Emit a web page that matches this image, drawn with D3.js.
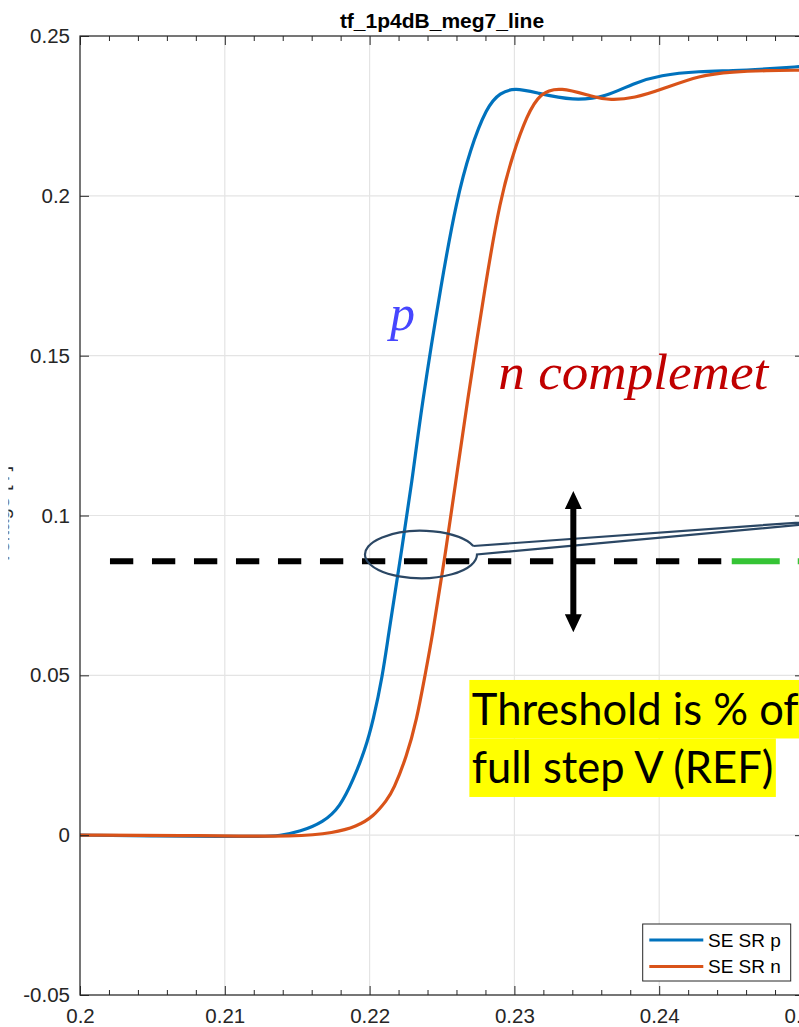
<!DOCTYPE html>
<html>
<head>
<meta charset="utf-8">
<script src="https://cdn.jsdelivr.net/npm/d3@7"></script>
<style>
  html, body { margin: 0; padding: 0; background: #ffffff; }
  svg { display: block; }
</style>
</head>
<body>
<svg id="chart" width="799" height="1027"></svg>
<script>
// ---- data ----
const chartTitle = "tf_1p4dB_meg7_line";
const yAxisLabel = "Voltage [V]";
const seriesNames = ["SE SR p", "SE SR n"];

const xTickValues = [0.2, 0.21, 0.22, 0.23, 0.24, 0.25];
const xTickLabels = ["0.2", "0.21", "0.22", "0.23", "0.24", "0.25"];
const yTickValues = [-0.05, 0, 0.05, 0.1, 0.15, 0.2, 0.25];
const yTickLabels = ["-0.05", "0", "0.05", "0.1", "0.15", "0.2", "0.25"];

// step response, p side
const timeP = [0.2000, 0.2049, 0.2100, 0.2125, 0.2138, 0.21519, 0.21680, 0.21796, 0.21887, 0.21968,
               0.22026, 0.22090, 0.22125, 0.22210, 0.22295, 0.22355, 0.22498, 0.22601, 0.22693, 0.22809,
               0.22901, 0.23004, 0.23154, 0.23405, 0.23637, 0.23819, 0.24006, 0.24282, 0.24510, 0.24738,
               0.24965, 0.2500];
const voltP = [0.0000, -0.0002, -0.0004, -0.0004, -0.0002, 0.0011, 0.0040, 0.0088, 0.0173, 0.0266,
               0.0360, 0.0501, 0.0611, 0.0858, 0.1111, 0.1330, 0.1736, 0.1987, 0.2143, 0.2279,
               0.2323, 0.2338, 0.2322, 0.2297, 0.2310, 0.2352, 0.2378, 0.2390, 0.2391, 0.2397,
               0.2404, 0.2405];

// step response, n side (complement)
const timeN = [0.2000, 0.20829, 0.21519, 0.21747, 0.21911, 0.22026, 0.22120, 0.22164, 0.22256,
               0.22325, 0.22383, 0.22429, 0.22516, 0.22597, 0.22666, 0.22804, 0.22901, 0.22992, 0.23085,
               0.23177, 0.23315, 0.23543, 0.23660, 0.23833, 0.24006, 0.24282, 0.24510, 0.24738, 0.24965,
               0.2500];
const voltN = [0.0000, -0.0001, -0.0005, 0.0007, 0.0027, 0.0058, 0.0110, 0.0141, 0.0246,
               0.0360, 0.0501, 0.0611, 0.0858, 0.1111, 0.1330, 0.1736, 0.1987, 0.2134, 0.2250,
               0.2323, 0.2341, 0.2310, 0.2299, 0.2306, 0.2331, 0.2378, 0.2388, 0.2392, 0.2393,
               0.2393];

// threshold annotation
const thresholdLevel = 0.0857;
const thresholdFrom = 0.20207;
const thresholdTo = 0.24435;
const thresholdGreenFrom = 0.24501;
const noteLines = ["Threshold is % of", "full step V (REF)"];
const labelP = "p";
const labelN = "n complemet";

// ---- layout ----
const W = 799, H = 1027;
const plot = { left: 80, right: 804, top: 36, bottom: 995 };
const axisColor = "#262626";
const gridColor = "#e4e4e4";
const colorP = "#0072BD";
const colorN = "#D95319";
const tickFont = "'Liberation Sans', Arial, Helvetica, sans-serif";

const x = d3.scaleLinear().domain([0.2, 0.25]).range([plot.left, plot.right]);
const y = d3.scaleLinear().domain([-0.05, 0.25]).range([plot.bottom, plot.top]);

const svg = d3.select("#chart");
const defs = svg.append("defs");
defs.append("clipPath").attr("id", "plot-clip")
  .append("rect")
  .attr("x", plot.left).attr("y", plot.top)
  .attr("width", plot.right - plot.left).attr("height", plot.bottom - plot.top);
defs.append("clipPath").attr("id", "ylabel-clip")
  .append("rect").attr("x", 8.4).attr("y", 0).attr("width", 30).attr("height", H);

svg.append("rect").attr("width", W).attr("height", H).attr("fill", "#ffffff");

// ---- grid ----
const grid = svg.append("g").attr("stroke", gridColor).attr("stroke-width", 1.2);
grid.selectAll("line.gx").data(xTickValues).join("line")
  .attr("class", "gx")
  .attr("x1", d => x(d)).attr("x2", d => x(d))
  .attr("y1", plot.top).attr("y2", plot.bottom);
grid.selectAll("line.gy").data(yTickValues).join("line")
  .attr("class", "gy")
  .attr("x1", plot.left).attr("x2", plot.right)
  .attr("y1", d => y(d)).attr("y2", d => y(d));

// ---- curves ----
const line = d3.line()
  .x(d => x(d[0]))
  .y(d => y(d[1]))
  .curve(d3.curveBasis);

const curves = svg.append("g").attr("clip-path", "url(#plot-clip)");
curves.append("path")
  .datum(d3.zip(timeP, voltP))
  .attr("d", line)
  .attr("fill", "none")
  .attr("stroke", colorP)
  .attr("stroke-width", 3.2)
  .attr("stroke-linejoin", "round");
curves.append("path")
  .datum(d3.zip(timeN, voltN))
  .attr("d", line)
  .attr("fill", "none")
  .attr("stroke", colorN)
  .attr("stroke-width", 3.2)
  .attr("stroke-linejoin", "round");

// ---- axes ----
const minorX = d3.range(0.2, 0.2501, 0.002).filter(v => !xTickValues.some(t => Math.abs(t - v) < 1e-9));

function styleAxis(g) {
  g.select(".domain").remove();
  g.selectAll(".tick line").attr("stroke", axisColor).attr("stroke-width", 1);
  g.selectAll(".tick text")
    .attr("fill", axisColor)
    .attr("font-family", tickFont)
    .attr("font-size", "20.5px");
}

svg.append("g").attr("transform", `translate(0,${plot.bottom})`)
  .call(d3.axisBottom(x).tickValues(xTickValues).tickFormat((d, i) => xTickLabels[i])
    .tickSize(-9).tickSizeOuter(0).tickPadding(13))
  .call(styleAxis);
svg.append("g").attr("transform", `translate(0,${plot.bottom})`)
  .call(d3.axisBottom(x).tickValues(minorX).tickFormat("").tickSize(-5).tickSizeOuter(0))
  .call(styleAxis);
svg.append("g").attr("transform", `translate(0,${plot.top})`)
  .call(d3.axisTop(x).tickValues(xTickValues).tickFormat("").tickSize(-9).tickSizeOuter(0))
  .call(styleAxis);
svg.append("g").attr("transform", `translate(0,${plot.top})`)
  .call(d3.axisTop(x).tickValues(minorX).tickFormat("").tickSize(-5).tickSizeOuter(0))
  .call(styleAxis);
svg.append("g").attr("transform", `translate(${plot.left},0)`)
  .call(d3.axisLeft(y).tickValues(yTickValues).tickFormat((d, i) => yTickLabels[i])
    .tickSize(-9).tickSizeOuter(0).tickPadding(10))
  .call(styleAxis);
svg.append("g").attr("transform", `translate(${plot.right},0)`)
  .call(d3.axisRight(y).tickValues(yTickValues).tickFormat("").tickSize(-9).tickSizeOuter(0))
  .call(styleAxis);

// axes box
svg.append("rect")
  .attr("x", plot.left).attr("y", plot.top)
  .attr("width", plot.right - plot.left).attr("height", plot.bottom - plot.top)
  .attr("fill", "none").attr("stroke", axisColor).attr("stroke-width", 1.2);

// title
svg.append("text")
  .attr("x", (plot.left + plot.right) / 2).attr("y", 28)
  .attr("text-anchor", "middle")
  .attr("font-family", tickFont).attr("font-weight", "bold").attr("font-size", "21px")
  .attr("fill", "#000000")
  .text(chartTitle);

// y-axis label (only its edge shows beside the axis)
svg.append("g").attr("clip-path", "url(#ylabel-clip)")
  .append("text")
  .attr("transform", `translate(9,${(plot.top + plot.bottom) / 2}) rotate(-90)`)
  .attr("text-anchor", "middle")
  .attr("font-family", tickFont).attr("font-size", "20.5px")
  .attr("fill", axisColor)
  .text(yAxisLabel);

// ---- legend ----
const legend = svg.append("g")
  .attr("transform", `translate(${plot.right - 161.3},${plot.bottom - 71})`);
legend.append("rect")
  .attr("x", 0).attr("y", 0).attr("width", 148).attr("height", 57)
  .attr("fill", "#ffffff").attr("stroke", axisColor).attr("stroke-width", 1);
[colorP, colorN].forEach((c, i) => {
  const yy = 16 + i * 26.5;
  legend.append("line")
    .attr("x1", 6.6).attr("x2", 60.6).attr("y1", yy).attr("y2", yy)
    .attr("stroke", c).attr("stroke-width", 3.2);
  legend.append("text")
    .attr("x", 65.3).attr("y", yy + 6.7)
    .attr("font-family", tickFont).attr("font-size", "19px")
    .attr("fill", "#000000")
    .text(seriesNames[i]);
});

// ---- annotations ----
const ann = svg.append("g");

// threshold level: black dashes, then a green segment
ann.append("line")
  .attr("x1", x(thresholdFrom)).attr("x2", x(thresholdTo))
  .attr("y1", y(thresholdLevel)).attr("y2", y(thresholdLevel))
  .attr("stroke", "#000000").attr("stroke-width", 6)
  .attr("stroke-dasharray", "23.3 18.7");
ann.append("line")
  .attr("x1", x(thresholdGreenFrom)).attr("x2", W + 40)
  .attr("y1", y(thresholdLevel)).attr("y2", y(thresholdLevel))
  .attr("stroke", "#35c435").attr("stroke-width", 6)
  .attr("stroke-dasharray", "48 18");

// oval callout round the two crossings
{
  const cx = x(0.22355), cy = y(0.0878);
  const rx = 56, ry = 23.7;
  const a1 = -21 * Math.PI / 180;           // upper attachment
  const p1 = [cx + rx * Math.cos(a1), cy + ry * Math.sin(a1)];
  const p2 = [cx + rx, cy];                 // lower attachment
  const tip = [x(0.25766), y(0.1004)];
  const path = `M${p1[0]},${p1[1]} L${tip[0]},${tip[1]} L${p2[0]},${p2[1]} ` +
               `A${rx},${ry} 0 1 1 ${p1[0]},${p1[1]}`;
  ann.append("path")
    .attr("d", path)
    .attr("fill", "none")
    .attr("stroke", "#2b4764")
    .attr("stroke-width", 2.2)
    .attr("stroke-linejoin", "miter");
}

// double-headed vertical arrow
{
  const ax = x(0.23407);
  const yTop = y(0.1077), yBot = y(0.0635);
  const hw = 8.5, hl = 18, sw = 3;
  const d = `M${ax},${yTop} L${ax + hw},${yTop + hl} L${ax + sw},${yTop + hl} ` +
            `L${ax + sw},${yBot - hl} L${ax + hw},${yBot - hl} L${ax},${yBot} ` +
            `L${ax - hw},${yBot - hl} L${ax - sw},${yBot - hl} L${ax - sw},${yTop + hl} ` +
            `L${ax - hw},${yTop + hl} Z`;
  ann.append("path").attr("d", d).attr("fill", "#000000");
}

// curve labels
ann.append("text")
  .attr("x", x(0.22141)).attr("y", y(0.1580))
  .attr("font-family", "'Liberation Serif', 'DejaVu Serif', serif")
  .attr("font-style", "italic").attr("font-size", "50px")
  .attr("fill", "#4646ff")
  .text(labelP);
ann.append("text")
  .attr("x", x(0.22889)).attr("y", y(0.1396))
  .attr("font-family", "'Liberation Serif', 'DejaVu Serif', serif")
  .attr("font-style", "italic").attr("font-size", "50px")
  .attr("fill", "#c00000")
  .attr("textLength", 270).attr("lengthAdjust", "spacingAndGlyphs")
  .text(labelN);

// highlighted note
{
  const nx = x(0.22689), ny = y(0.04855);
  const lineH = 58.5;
  const note = ann.append("g");
  const bg = note.append("g");
  const texts = noteLines.map((t, i) => note.append("text")
    .attr("x", nx + 2.5).attr("y", ny + 45 + i * lineH)
    .attr("font-family", "Lato, 'Open Sans', sans-serif")
    .attr("font-size", "44px")
    .attr("fill", "#000000")
    .text(t));
  const natural = texts.map(t => t.node().getComputedTextLength());
  const k = 301.5 / natural[1];
  texts.forEach((t, i) => t.attr("textLength", natural[i] * k).attr("lengthAdjust", "spacingAndGlyphs"));
  texts.forEach((t, i) => {
    bg.append("rect")
      .attr("x", nx).attr("y", ny + i * lineH)
      .attr("width", natural[i] * k + 5).attr("height", lineH)
      .attr("fill", "#ffff00");
  });
}
</script>
</body>
</html>
